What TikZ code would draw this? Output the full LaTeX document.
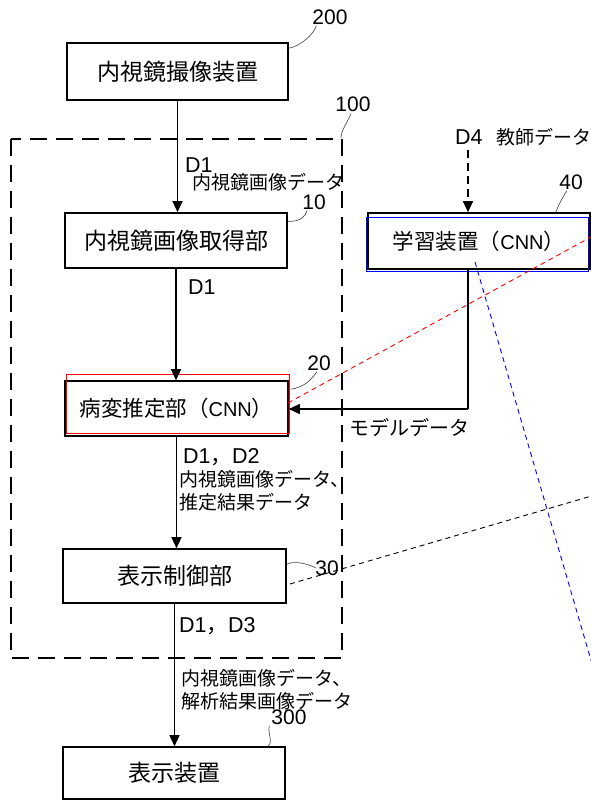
\documentclass[tikz,border=0pt]{standalone}
\usepackage{fontspec}
\setmainfont{Liberation Sans}
\newfontfamily\jp{Noto Sans CJK JP}
\usetikzlibrary{arrows.meta}
\begin{document}
\begin{tikzpicture}[x=1pt,y=-1pt,
  box/.style={draw, line width=1.6pt, inner sep=0pt, minimum width=222pt, minimum height=55pt},
  bigjp/.style={font=\jp\fontsize{23}{25}\selectfont},
  cnnjp/.style={font=\jp\fontsize{21.5}{24}\selectfont},
  lbl/.style={font=\jp\fontsize{19}{21}\selectfont, inner sep=0pt, anchor=west},
  lat/.style={font=\fontsize{21.5}{23}\selectfont, inner sep=0pt, anchor=west},
  num/.style={font=\fontsize{21}{23}\selectfont, inner sep=0pt},
  flow/.style={line width=1.3pt, -{Triangle[length=11pt,width=10pt]}},
  lead/.style={line width=0.6pt, draw=black!75},
  dashbox/.style={line width=1.8pt, dash pattern=on 17pt off 9pt},
  guideline/.style={line width=0.9pt, dash pattern=on 5pt off 4pt}]
\useasboundingbox (0,0) rectangle (591,800);
\clip (0,0) rectangle (591,800);
\fill[white] (0,0) rectangle (591,800);

% system boundary 100
\draw[dashbox] (11,139) rectangle (342,658);

% boxes
\node[box, bigjp, minimum width=221pt, minimum height=57pt] (n200) at (177.5,71.5) {内視鏡撮像装置};
\node[box, bigjp] (n10) at (176,240.5) {内視鏡画像取得部};
\node[box, cnnjp, minimum width=223pt] (n20) at (176.5,408.5) {病変推定部（{\fontspec{Liberation Sans}\fontsize{20}{24}\selectfont CNN}）};
\node[box, bigjp, minimum width=223pt, minimum height=54pt] (n30) at (174.5,576) {表示制御部};
\node[box, bigjp, minimum width=222pt, minimum height=52pt] (n300) at (174,773) {表示装置};
\node[box, cnnjp, minimum width=222pt, minimum height=56pt] (n40) at (479,241) {学習装置（{\fontspec{Liberation Sans}\fontsize{20}{24}\selectfont CNN}）};

% highlight rectangles
\draw[red, line width=1pt] (66,374) rectangle (289,433);
\draw[blue, line width=1pt] (366,217) rectangle (588,271);

% reference numerals
\node[num] (l200) at (330,17) {200};
\node[num] (l100) at (353,104) {100};
\node[num] (l10) at (314,202) {10};
\node[num] (l40) at (571,182) {40};
\node[num] (l20) at (319,363) {20};
\node[num] (l30) at (327,568) {30};
\node[num] (l300) at (289,717) {300};

% leaders
\draw[lead] ([yshift=-6pt]n200.north east) .. controls +(12,-2) and +(-2,8) .. ([xshift=4pt,yshift=-1pt]l200.south west);
\draw[lead] (341,138) .. controls +(0,-8) and +(-2,6) .. ([xshift=-2pt,yshift=-2pt]l100.south);
\draw[lead] ([yshift=-9pt]n10.north east) .. controls +(12,1) and +(-2,6) .. ([xshift=5pt,yshift=-1pt]l10.south west);
\draw[lead] ([xshift=-35pt]n40.north east) .. controls +(2,-6) and +(-4,6) .. ([xshift=-4pt,yshift=-1pt]l40.south);
\draw[lead] ([xshift=2pt,yshift=-9pt]n20.north east) .. controls +(14,-2) and +(-6,8) .. ([xshift=-2pt,yshift=-1pt]l20.south);
\draw[lead] ([yshift=-16pt]n30.north east) .. controls +(8,-4) and +(-8,-4) .. ([xshift=1pt]l30.west);
\draw[lead] ([xshift=-18pt]n300.north east) .. controls +(6,-4) and +(-2,8) .. ([xshift=-2pt,yshift=-1pt]l300.south west);

% main flow
\draw[flow] (n200.south) -- (n200.south |- n10.north);
\draw[flow] (n10.south) -- (n10.south |- n20.north);
\draw[flow] (n20.south) -- (n20.south |- n30.north);
\draw[flow] (n30.south) -- (n30.south |- n300.north);

% learning device
\coordinate (d4) at (468,150);
\draw[line width=1.3pt, dash pattern=on 8pt off 5pt, -{Triangle[length=11pt,width=10pt]}] (d4) -- (d4 |- n40.north);
\coordinate (bend) at (468,409);
\draw[line width=1.3pt] (n40.south -| bend) -- (bend);
\draw[flow] (bend) -- (n20.east |- bend);

% labels
\node[lat] (t1) at (185,165) {D1};
\node[lbl] (t2) at (192,182) {内視鏡画像データ};
\node[lat] (t3) at (188,287) {D1};
\node[lat] (t4) at (455,137) {D4};
\node[lbl] (t5) at (496,137) {教師データ};
\node[lbl, font=\jp\fontsize{20}{22}\selectfont] (t6) at (349,428) {モデルデータ};
\node[lat] (t7) at (183,457) {D1{\jp ，}D2};
\node[lbl] (t8) at (179,479) {内視鏡画像データ、};
\node[lbl] (t9) at (179,502) {推定結果データ};
\node[lat] (t10) at (179,626) {D1{\jp ，}D3};
\node[lbl] (t11) at (181,678) {内視鏡画像データ、};
\node[lbl] (t12) at (181,701) {解析結果画像データ};

% overlay guide lines
\draw[guideline, red] (288,403) -- (591,237);
\draw[guideline, blue] (475,262) -- (595,674);
\draw[guideline, black] (290,584) -- (595,495);
\end{tikzpicture}
\end{document}
